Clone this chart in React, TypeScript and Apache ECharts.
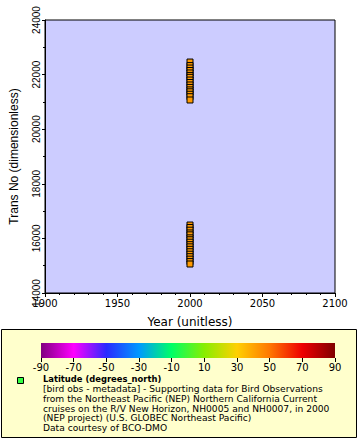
import React, { useEffect, useRef } from "react";
import * as echarts from "echarts";

const years: number[] = [
  2000, 2000, 2000, 2000, 2000, 2000, 2000, 2000, 2000, 2000, 2000, 2000, 2000, 2000, 2000, 2000,
  2000, 2000, 2000, 2000, 2000, 2000, 2000, 2000, 2000, 2000, 2000, 2000, 2000, 2000, 2000, 2000, 2000,
];
const transNo: number[] = [
  22460, 22330, 22240, 22150, 22060, 21970, 21900, 21800, 21710, 21620, 21530, 21440, 21370, 21280, 21190, 21070,
  16490, 16400, 16300, 16200, 16130, 16020, 15950, 15860, 15770, 15690, 15600, 15510, 15420, 15330, 15240, 15150, 15062,
];
const colorStops: string[] = [
  "#800080", "#ff00ff", "#2a2aff", "#0099ff", "#00ff66", "#88ee00", "#ffd000", "#ff7700", "#ee0000", "#800000",
];
const legendLines: string[] = [
  "[bird obs - metadata] - Supporting data for Bird Observations",
  "from the Northeast Pacific (NEP) Northern California Current",
  "cruises on the R/V New Horizon, NH0005 and NH0007, in 2000",
  "(NEP project) (U.S. GLOBEC Northeast Pacific)",
  "Data courtesy of BCO-DMO",
];
const legendTitle = "Latitude (degrees_north)";

export default function App() {
  const ref = useRef<HTMLDivElement>(null);
  useEffect(() => {
    if (!ref.current) return;
    const chart = echarts.init(ref.current, null, { renderer: "svg" });
    const font = "DejaVu Sans";
    const points = years.map((y, i) => [y, transNo[i]]);
    const grad = new echarts.graphic.LinearGradient(
      0, 0, 1, 0,
      colorStops.map((c, i) => ({ offset: i / (colorStops.length - 1), color: c }))
    );
    const graphics: any[] = [
      {
        type: "rect",
        shape: { x: 1.5, y: 329.5, width: 355, height: 108 },
        style: { fill: "#ffffcc", stroke: "#000", lineWidth: 1 },
        z: -10,
      },
      {
        type: "rect",
        shape: { x: 41, y: 343, width: 294, height: 15 },
        style: { fill: grad },
        z: 1,
      },
      {
        type: "rect",
        shape: { x: 17.5, y: 377.5, width: 6, height: 6 },
        style: { fill: "#33ff44", stroke: "#000", lineWidth: 1 },
      },
      {
        type: "text",
        x: 43,
        y: 379,
        style: {
          text: legendTitle,
          fontFamily: font,
          fontWeight: "bold",
          fontSize: 8.4,
          fill: "#000",
          textVerticalAlign: "middle",
        },
      },
      ...legendLines.map((t, i) => ({
        type: "text",
        x: 43,
        y: 389.1 + i * 9.8,
        scaleX: 1.088,
        style: {
          text: t,
          fontFamily: font,
          fontSize: 8.4,
          fill: "#000",
          textVerticalAlign: "middle",
        },
      })),
    ];
    chart.setOption({
      animation: false,
      backgroundColor: "#fff",
      grid: [
        {
          left: 37, top: 20, width: 298, height: 273,
          show: true, backgroundColor: "#ccccff", borderColor: "#000", borderWidth: 1,
        },
        { left: 41, top: 343, width: 294, height: 15, show: false },
      ],
      xAxis: [
        {
          gridIndex: 0, type: "value", min: 1900, max: 2100, interval: 50,
          name: "Year (unitless)", nameLocation: "middle", nameGap: 23,
          nameTextStyle: { fontFamily: font, fontSize: 12, color: "#000" },
          axisLine: { lineStyle: { color: "#000" } },
          axisTick: { show: true, inside: false, length: 4, lineStyle: { color: "#000" } },
          minorTick: { show: true, splitNumber: 5, length: 2, lineStyle: { color: "#000" } },
          axisLabel: {
            fontFamily: font, fontSize: 10, color: "#000", margin: 5,
            formatter: (v: number) => String(v),
          },
          splitLine: { show: false },
        },
        {
          gridIndex: 1, type: "value", min: -90, max: 90, interval: 20,
          axisLine: { show: false },
          axisTick: { show: true, length: 4, lineStyle: { color: "#000" } },
          axisLabel: {
            fontFamily: font, fontSize: 10, color: "#000", margin: 4,
            formatter: (v: number) => String(v),
          },
          splitLine: { show: false },
        },
      ],
      yAxis: [
        {
          gridIndex: 0, type: "value", min: 14000, max: 24000, interval: 2000,
          name: "Trans No (dimensionless)", nameLocation: "middle", nameGap: 25, nameRotate: 90,
          nameTextStyle: { fontFamily: "Liberation Sans", fontSize: 12, color: "#000" },
          axisLine: { lineStyle: { color: "#000" } },
          axisTick: { show: true, inside: false, length: 3, lineStyle: { color: "#000" } },
          minorTick: { show: true, splitNumber: 2, length: 2, lineStyle: { color: "#000" } },
          axisLabel: {
            fontFamily: "Liberation Sans", fontSize: 10, color: "#000", rotate: 90, margin: 4,
            formatter: (v: number) => String(v),
          },
          splitLine: { show: false },
        },
        { gridIndex: 1, type: "value", show: false },
      ],
      series: [
        {
          type: "scatter",
          xAxisIndex: 0, yAxisIndex: 0,
          data: points,
          symbol: "rect",
          symbolSize: 6,
          itemStyle: { color: "#ff9a00", borderColor: "#000", borderWidth: 1, opacity: 1 },
        },
      ],
      graphic: graphics,
    });
    return () => chart.dispose();
  }, []);
  return (
    <div
      ref={ref}
      style={{ position: "fixed", left: 0, top: 0, width: 360, height: 440 }}
    />
  );
}
